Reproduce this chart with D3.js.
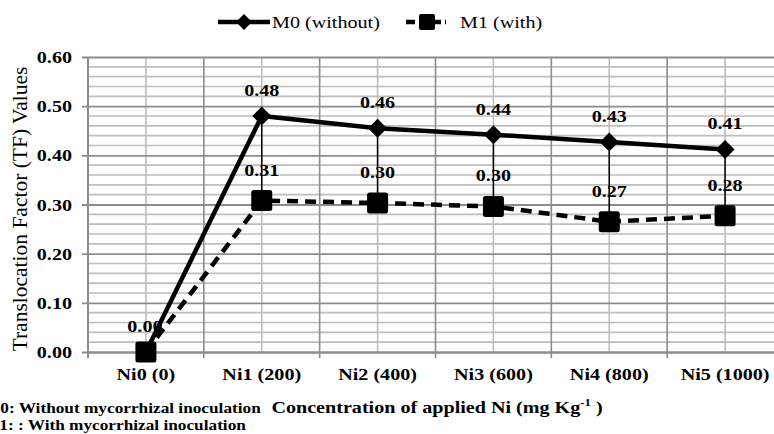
<!DOCTYPE html>
<html>
<head>
<meta charset="utf-8">
<script src="https://cdn.jsdelivr.net/npm/d3@7"></script>
</head>
<body style="margin:0;background:#fff;overflow:hidden">
<div id="chart"></div>
<script>
// data
const categories = ["Ni0 (0)", "Ni1 (200)", "Ni2 (400)", "Ni3 (600)", "Ni4 (800)", "Ni5 (1000)"];
const m0Values = [0.00, 0.48, 0.455, 0.442, 0.427, 0.412];
const m1Values = [0.00, 0.308, 0.303, 0.296, 0.265, 0.277];
const m0Labels = ["0.00", "0.48", "0.46", "0.44", "0.43", "0.41"];
const m1Labels = ["", "0.31", "0.30", "0.30", "0.27", "0.28"];
const yTicks = [0, 0.1, 0.2, 0.3, 0.4, 0.5, 0.6];

const FONT = "\"Liberation Serif\"";
const STRETCH = 1.15; // the source picture is a bit wide

// widen glyphs horizontally like the source image
function stretch(sel) {
  sel.each(function() {
    const len = this.getComputedTextLength();
    d3.select(this)
      .attr("textLength", len * STRETCH)
      .attr("lengthAdjust", "spacingAndGlyphs");
  });
}

function drawChart() {
  const width = 774, height = 434;
  const plot = { left: 88, right: 783, top: 57, bottom: 352 };

  const svg = d3.select("#chart").append("svg")
      .attr("width", width)
      .attr("height", height)
      .style("display", "block");

  const xScale = d3.scaleBand()
    .domain(categories)
    .range([plot.left, plot.right]);

  const yScale = d3.scaleLinear()
    .domain([0, 0.6])
    .range([plot.bottom, plot.top]);

  const xc = d => xScale(d) + xScale.bandwidth() / 2;

  // minor horizontal grid every 0.02
  const minor = d3.range(0, 0.6001, 0.02).filter(v => Math.abs(v * 10 - Math.round(v * 10)) > 0.01);
  svg.append("g")
    .selectAll("line")
    .data(minor)
    .join("line")
      .attr("x1", plot.left).attr("x2", plot.right)
      .attr("y1", d => yScale(d)).attr("y2", d => yScale(d))
      .attr("stroke", "#bdbdbd")
      .attr("stroke-width", 1.6);

  // minor vertical grid at category centres
  svg.append("g")
    .selectAll("line")
    .data(categories)
    .join("line")
      .attr("x1", xc).attr("x2", xc)
      .attr("y1", plot.top).attr("y2", plot.bottom)
      .attr("stroke", "#bdbdbd")
      .attr("stroke-width", 1.6);

  // major vertical grid at category boundaries
  svg.append("g")
    .selectAll("line")
    .data(categories.slice(1))
    .join("line")
      .attr("x1", d => xScale(d)).attr("x2", d => xScale(d))
      .attr("y1", plot.top).attr("y2", plot.bottom + 6)
      .attr("stroke", "#8c8c8c")
      .attr("stroke-width", 1.6);

  // y axis with major gridlines
  svg.append("g")
    .attr("transform", `translate(${plot.left},0)`)
    .call(d3.axisLeft(yScale)
      .tickValues(yTicks)
      .tickFormat(d3.format(".2f"))
      .tickSize(-(plot.right - plot.left))
      .tickPadding(16))
    .attr("font-family", null)
    .call(g => g.select(".domain").remove())
    .call(g => g.selectAll(".tick line")
      .attr("x1", -6)
      .attr("stroke", "#8c8c8c")
      .attr("stroke-width", 1.8))
    .call(g => g.selectAll(".tick text")
      .attr("fill", "#000")
      .attr("font-weight", "bold")
      .attr("font-size", 17.5));

  // left axis line
  svg.append("line")
    .attr("x1", plot.left).attr("x2", plot.left)
    .attr("y1", plot.top).attr("y2", plot.bottom + 6)
    .attr("stroke", "#8c8c8c")
    .attr("stroke-width", 2);

  // x axis
  svg.append("g")
    .attr("transform", `translate(0,${plot.bottom})`)
    .call(d3.axisBottom(xScale).tickSize(0).tickPadding(16))
    .attr("font-family", null)
    .call(g => g.select(".domain")
      .attr("stroke", "#8c8c8c")
      .attr("stroke-width", 2))
    .call(g => g.selectAll(".tick text")
      .attr("fill", "#000")
      .attr("font-weight", "bold")
      .attr("font-size", 17.5));

  // high-low lines between the two series
  svg.append("g")
    .selectAll("line")
    .data(categories)
    .join("line")
      .attr("x1", xc).attr("x2", xc)
      .attr("y1", (d, i) => yScale(m0Values[i]))
      .attr("y2", (d, i) => yScale(m1Values[i]))
      .attr("stroke", "#000")
      .attr("stroke-width", 1.5);

  const line = d3.line()
    .x((d, i) => xc(categories[i]))
    .y(d => yScale(d));

  // value labels
  const labelStyle = sel => sel
    .attr("class", "stretch")
    .attr("text-anchor", "middle")
    .attr("font-weight", "bold")
    .attr("font-size", 17.5)
    .attr("fill", "#000");

  svg.append("g")
    .selectAll("text")
    .data(m0Labels)
    .join("text")
      .attr("x", (d, i) => xc(categories[i]) + (i === 0 ? -1 : 0))
      .attr("y", (d, i) => yScale(m0Values[i]) - 20)
      .text(d => d)
      .call(labelStyle);

  svg.append("g")
    .selectAll("text")
    .data(m1Labels)
    .join("text")
      .attr("x", (d, i) => xc(categories[i]))
      .attr("y", (d, i) => yScale(m1Values[i]) - 25)
      .text(d => d)
      .call(labelStyle);

  // M1 dashed
  svg.append("path")
    .datum(m1Values)
    .attr("d", line)
    .attr("fill", "none")
    .attr("stroke", "#000")
    .attr("stroke-width", 4.5)
    .attr("stroke-dasharray", "11,7");

  // M0 solid
  svg.append("path")
    .datum(m0Values)
    .attr("d", line)
    .attr("fill", "none")
    .attr("stroke", "#000")
    .attr("stroke-width", 4.5);

  // M0 diamonds
  svg.append("g")
    .selectAll("path")
    .data(m0Values)
    .join("path")
      .attr("transform", (d, i) => `translate(${xc(categories[i])},${yScale(d)})`)
      .attr("d", "M0,-9.5L9.5,0L0,9.5L-9.5,0Z")
      .attr("fill", "#000");

  // M1 squares
  svg.append("g")
    .selectAll("rect")
    .data(m1Values)
    .join("rect")
      .attr("x", (d, i) => xc(categories[i]) - 10.5)
      .attr("y", d => yScale(d) - 10.5)
      .attr("width", 21).attr("height", 21)
      .attr("rx", 2.5)
      .attr("fill", "#000");

  // y axis title (vertical, not widened)
  svg.append("text")
    .attr("transform", `translate(27,209) rotate(-90)`)
    .attr("text-anchor", "middle")
    .attr("font-size", 21.5)
    .text("Translocation Factor (TF) Values");

  // x axis title
  const xTitle = svg.append("text")
    .attr("transform", `translate(437,413) scale(${STRETCH},1)`)
    .attr("text-anchor", "middle")
    .attr("font-weight", "bold")
    .attr("font-size", 17.5);
  xTitle.append("tspan").text("Concentration of applied Ni (mg Kg");
  xTitle.append("tspan").attr("dy", -7).attr("font-size", 11).text("-1");
  xTitle.append("tspan").attr("dy", 7).text(" )");

  // footnotes (cut off at the left edge, as in the reference)
  const notes = svg.append("g")
    .attr("font-weight", "bold")
    .attr("font-size", 15);
  notes.append("text")
    .attr("class", "stretch")
    .attr("x", -16).attr("y", 413)
    .text("M0: Without mycorrhizal inoculation");
  notes.append("text")
    .attr("class", "stretch")
    .attr("x", -17).attr("y", 430)
    .text("M1: : With mycorrhizal inoculation");

  // legend
  const legend = svg.append("g");
  legend.append("line")
    .attr("x1", 218).attr("x2", 270).attr("y1", 22).attr("y2", 22)
    .attr("stroke", "#000").attr("stroke-width", 4.5);
  legend.append("path")
    .attr("transform", "translate(244,22)")
    .attr("d", "M0,-8L8,0L0,8L-8,0Z")
    .attr("fill", "#000");
  legend.append("text")
    .attr("class", "stretch")
    .attr("x", 272).attr("y", 28)
    .attr("font-size", 17.5)
    .text("M0 (without)");

  legend.append("line")
    .attr("x1", 406).attr("x2", 446).attr("y1", 22).attr("y2", 22)
    .attr("stroke", "#000").attr("stroke-width", 4.5)
    .attr("stroke-dasharray", "9,4");
  legend.append("rect")
    .attr("x", 419).attr("y", 14).attr("width", 16).attr("height", 16)
    .attr("rx", 2)
    .attr("fill", "#000");
  legend.append("text")
    .attr("class", "stretch")
    .attr("x", 460).attr("y", 28)
    .attr("font-size", 17.5)
    .text("M1 (with)");

  // font on every text, then widen the horizontal ones
  svg.selectAll("text").style("font-family", FONT);
  svg.selectAll(".tick text").call(stretch);
  svg.selectAll(".stretch").call(stretch);
}
drawChart();
</script>
</body>
</html>
